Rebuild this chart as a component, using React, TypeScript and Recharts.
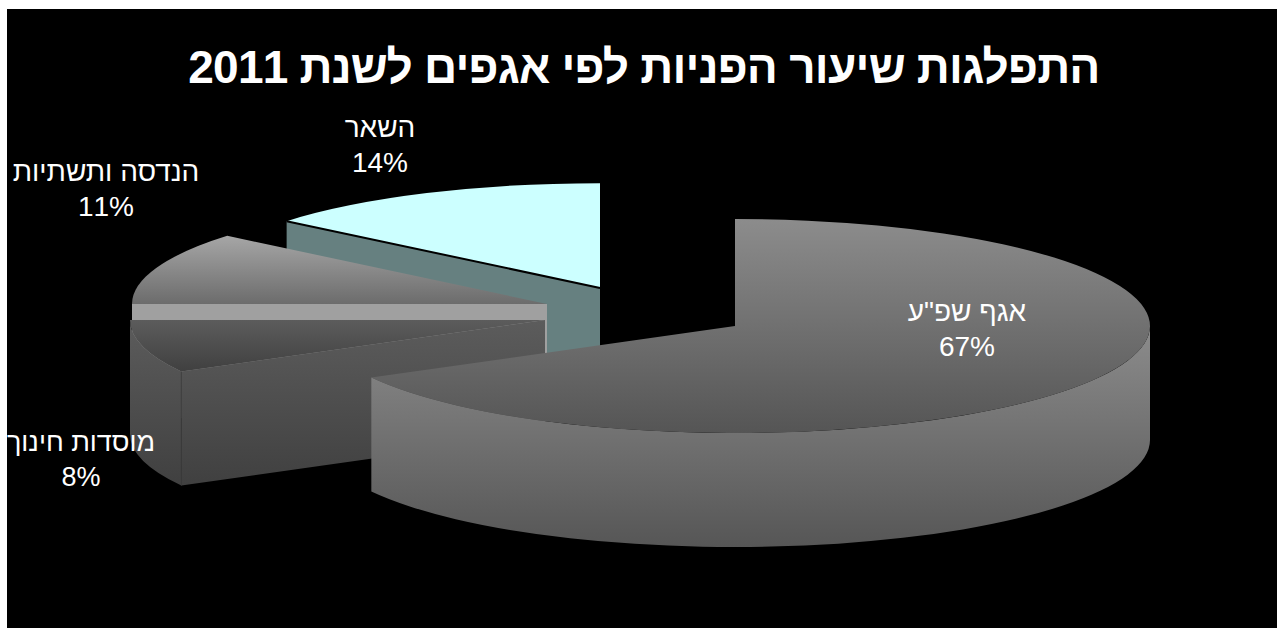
import { Pie, PieChart } from "recharts";

// listed counter-clockwise from 12 o'clock, so the big slice paints last
const sliceNames = ["השאר", "הנדסה ותשתיות", "מוסדות חינוך", 'אגף שפ"ע'];
const sliceValues = [14, 11, 8, 67];

const chartTitle = "התפלגות שיעור הפניות לפי אגפים לשנת 2011";

const data = sliceNames.map((name, i) => ({ name, value: sliceValues[i] }));

const WIDTH = 1270;
const HEIGHT = 619;
const FONT = "'Liberation Sans', Arial, sans-serif";

// flattening of the pie and height of its extrusion
const TILT = 107 / 415;
const DEPTH = 114;

interface SliceStyle {
  dx: number;
  dy: number;
  scale: number;
  top: string;
  wall: string;
  face: string;
  edge?: string;
  labelX: number;
  labelY: number;
  labelSize: number;
}

// explode offset, paint and label anchor of each slice
const sliceStyles: Record<string, SliceStyle> = {
  "השאר": { dx: -135, dy: -38, scale: 0.98, top: "#ccffff", wall: "#668080", face: "#668080", edge: "#000000", labelX: 373, labelY: 128, labelSize: 28 },
  "הנדסה ותשתיות": { dx: -188, dy: -22, scale: 1, top: "url(#topLight)", wall: "#a0a0a0", face: "#a0a0a0", labelX: 99, labelY: 172, labelSize: 28 },
  "מוסדות חינוך": { dx: -190, dy: -6, scale: 1, top: "url(#topDark)", wall: "url(#sideDark)", face: "url(#sideDark)", labelX: 74, labelY: 442, labelSize: 27 },
  'אגף שפ"ע': { dx: 0, dy: 0, scale: 1, top: "url(#topMain)", wall: "url(#sideMain)", face: "url(#sideMain)", labelX: 960, labelY: 312, labelSize: 28 },
};

const rad = (deg: number) => (deg * Math.PI) / 180;

function Slice3D(props: any) {
  const { cx, cy, outerRadius, startAngle, endAngle, name } = props;
  const style = sliceStyles[name];
  const rx = outerRadius * style.scale;
  const ry = rx * TILT;
  const ox = cx + style.dx;
  const oy = cy + style.dy;
  const px = (a: number) => ox + rx * Math.cos(rad(a));
  const py = (a: number) => oy - ry * Math.sin(rad(a));

  const large = endAngle - startAngle > 180 ? 1 : 0;
  const topPath = `M${ox},${oy} L${px(startAngle)},${py(startAngle)} A${rx},${ry} 0 ${large} 0 ${px(endAngle)},${py(endAngle)} Z`;

  // only the part of the rim on the near side of the pie shows
  const wallFrom = Math.max(startAngle, 180);
  const wallTo = Math.min(endAngle, 360);
  const hasWall = wallTo > wallFrom;
  const wallLarge = wallTo - wallFrom > 180 ? 1 : 0;
  const wallPath = hasWall
    ? `M${px(wallFrom)},${py(wallFrom)} A${rx},${ry} 0 ${wallLarge} 0 ${px(wallTo)},${py(wallTo)} L${px(wallTo)},${py(wallTo) + DEPTH} A${rx},${ry} 0 ${wallLarge} 1 ${px(wallFrom)},${py(wallFrom) + DEPTH} Z`
    : "";

  // the cut side at endAngle faces the viewer when it points left
  const showFace = Math.cos(rad(endAngle)) < -0.001;
  const facePath = `M${ox},${oy} L${px(endAngle)},${py(endAngle)} l0,${DEPTH} L${ox},${oy + DEPTH} Z`;

  return (
    <g>
      {showFace && <path d={facePath} fill={style.face} />}
      {hasWall && <path d={wallPath} fill={style.wall} />}
      {showFace && hasWall && (
        <line
          x1={px(wallTo)}
          y1={py(wallTo)}
          x2={px(wallTo)}
          y2={py(wallTo) + DEPTH}
          stroke="#3c3c3c"
          strokeWidth={1}
        />
      )}
      <path d={topPath} fill={style.top} />
      {style.edge && (
        <line x1={ox} y1={oy} x2={px(endAngle)} y2={py(endAngle)} stroke={style.edge} strokeWidth={2} />
      )}
    </g>
  );
}

function SliceLabel(props: any) {
  const { name, value } = props;
  const style = sliceStyles[name];
  return (
    <text
      fill="#ffffff"
      fontFamily={FONT}
      fontSize={style.labelSize}
      textAnchor="middle"
      direction="rtl"
    >
      <tspan x={style.labelX} y={style.labelY}>
        {name}
      </tspan>
      <tspan x={style.labelX} y={style.labelY + 35}>
        {`${value}%`}
      </tspan>
    </text>
  );
}

export default function App() {
  return (
    <div
      style={{
        position: "absolute",
        left: 7,
        top: 9,
        width: WIDTH,
        height: HEIGHT,
        background: "#000000",
        overflow: "hidden",
      }}
    >
      <PieChart width={WIDTH} height={HEIGHT} margin={{ top: 0, right: 0, bottom: 0, left: 0 }}>
        <defs>
          <linearGradient id="topMain" x1="0" y1="0" x2="0" y2="1">
            <stop offset="0%" stopColor="#8c8c8c" />
            <stop offset="100%" stopColor="#555555" />
          </linearGradient>
          <linearGradient id="sideMain" x1="0" y1="0" x2="0" y2="1">
            <stop offset="0%" stopColor="#8c8c8c" />
            <stop offset="100%" stopColor="#565656" />
          </linearGradient>
          <linearGradient id="topLight" x1="0" y1="0" x2="0" y2="1">
            <stop offset="0%" stopColor="#a6a6a6" />
            <stop offset="100%" stopColor="#6c6c6c" />
          </linearGradient>
          <linearGradient id="topDark" x1="0" y1="0" x2="0" y2="1">
            <stop offset="0%" stopColor="#5c5c5c" />
            <stop offset="100%" stopColor="#404040" />
          </linearGradient>
          <linearGradient id="sideDark" x1="0" y1="0" x2="0" y2="1">
            <stop offset="0%" stopColor="#5c5c5c" />
            <stop offset="100%" stopColor="#404040" />
          </linearGradient>
        </defs>
        <text
          x={637}
          y={74}
          fill="#ffffff"
          fontFamily={FONT}
          fontSize={46}
          fontWeight="bold"
          letterSpacing={-0.8}
          textAnchor="middle"
          direction="rtl"
        >
          {chartTitle}
        </text>
        <Pie
          data={data}
          dataKey="value"
          nameKey="name"
          cx={728}
          cy={317}
          innerRadius={0}
          outerRadius={415}
          startAngle={90}
          endAngle={450}
          stroke="none"
          isAnimationActive={false}
          shape={Slice3D}
          label={SliceLabel}
          labelLine={false}
        />
      </PieChart>
    </div>
  );
}
